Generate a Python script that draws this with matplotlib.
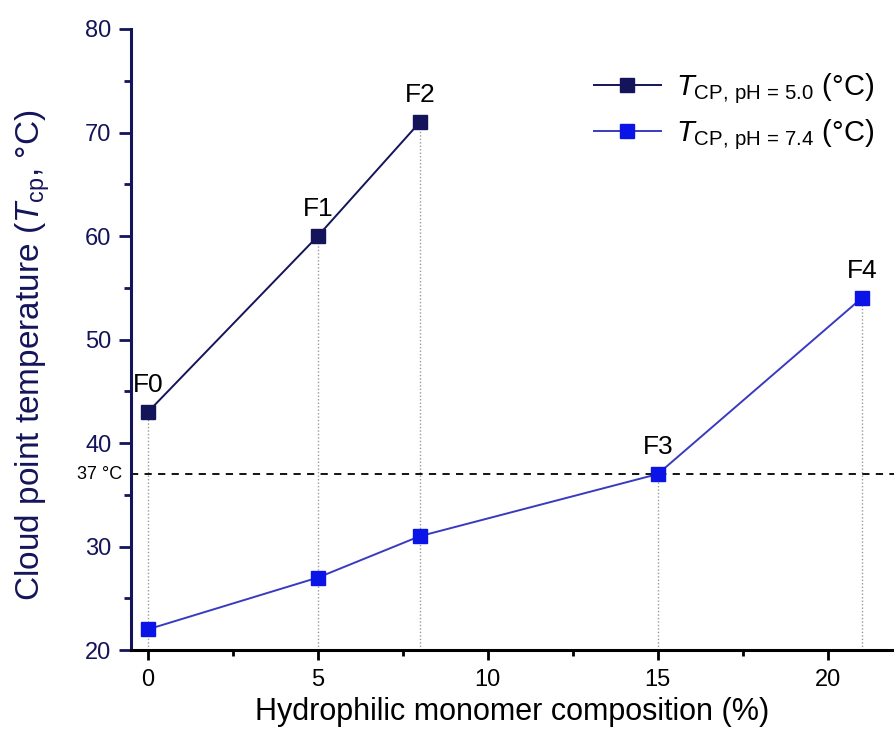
import numpy as np
import matplotlib
matplotlib.use("Agg")
import matplotlib.pyplot as plt
from matplotlib.ticker import MultipleLocator

plt.rcParams['font.family'] = ['Liberation Sans', 'DejaVu Sans']
plt.rcParams['mathtext.fontset'] = 'custom'
plt.rcParams['mathtext.rm'] = 'Liberation Sans'
plt.rcParams['mathtext.it'] = 'Liberation Sans:italic'

# data
comp_ph5 = [0, 5, 8]
tcp_ph5 = [43, 60, 71]
comp_ph74 = [0, 5, 8, 15, 21]
tcp_ph74 = [22, 27, 31, 37, 54]
# formulation labels: (name, x, y)
form_names = ['F0', 'F1', 'F2', 'F3', 'F4']
form_x = [0, 5, 8, 15, 21]
form_y = [43, 60, 71, 37, 54]
body_temp = 37

navy = '#14145a'
blue = '#0a14e6'
blue_line = '#3a3ac0'

fig = plt.figure(figsize=(8.94, 7.36), dpi=100)
ax = fig.add_axes([0.1465, 0.1168, 0.8535, 0.8438])

# dotted guide lines from each point down to the x axis
for x, y in zip(form_x, form_y):
    ax.vlines(x, 20, y, colors='#9a9a9a', linestyles=(0, (1, 1.5)), linewidth=1.0, zorder=1)

ax.axhline(body_temp, color='black', linestyle=(0, (4, 3.5)), linewidth=1.3, zorder=2)

ax.plot(comp_ph5, tcp_ph5, color=navy, marker='s', markersize=10, markerfacecolor=navy,
        markeredgecolor=navy, linewidth=1.4, zorder=4,
        label=r'$T_{\mathrm{CP,\,pH\,=\,5.0}}$ (°C)')
ax.plot(comp_ph74, tcp_ph74, color=blue_line, marker='s', markersize=10, markerfacecolor=blue,
        markeredgecolor=blue, linewidth=1.4, zorder=4,
        label=r'$T_{\mathrm{CP,\,pH\,=\,7.4}}$ (°C)')

for name, x, y in zip(form_names, form_x, form_y):
    ax.annotate(name, (x, y), xytext=(0, 11), textcoords='offset points',
                ha='center', va='bottom', fontsize=19, color='black')

ax.text(-0.75, body_temp, '37 °C', ha='right', va='center', fontsize=13, color='black')

ax.set_xlim(-0.5, 21.95)
ax.set_ylim(20, 80)
ax.xaxis.set_major_locator(MultipleLocator(5))
ax.xaxis.set_minor_locator(MultipleLocator(2.5))
ax.yaxis.set_major_locator(MultipleLocator(10))
ax.yaxis.set_minor_locator(MultipleLocator(5))

for s in ['top', 'right']:
    ax.spines[s].set_visible(False)
ax.spines['left'].set_color(navy)
ax.spines['left'].set_linewidth(2.2)
ax.spines['bottom'].set_color('black')
ax.spines['bottom'].set_linewidth(2.2)

ax.tick_params(axis='y', which='major', direction='out', length=9, width=2, colors=navy,
               labelsize=17, pad=5)
ax.tick_params(axis='y', which='minor', direction='out', length=5, width=2, colors=navy)
ax.tick_params(axis='x', which='major', direction='out', length=7, width=2, colors='black',
               labelsize=17, pad=7)
ax.tick_params(axis='x', which='minor', direction='out', length=4, width=2, colors='black')

ax.set_xlabel('Hydrophilic monomer composition (%)', fontsize=22, color='black', labelpad=4)
ax.set_ylabel(r'Cloud point temperature ($T_{\mathrm{cp}}$, °C)', fontsize=24, color=navy)
ax.yaxis.set_label_coords(-0.103, 0.475)

ax.legend(loc='upper right', bbox_to_anchor=(1.0, 0.965), frameon=False, fontsize=21,
          handlelength=2.3, labelspacing=0.4, handletextpad=0.5, borderaxespad=0.3)

fig.savefig('out.png', dpi=100)
